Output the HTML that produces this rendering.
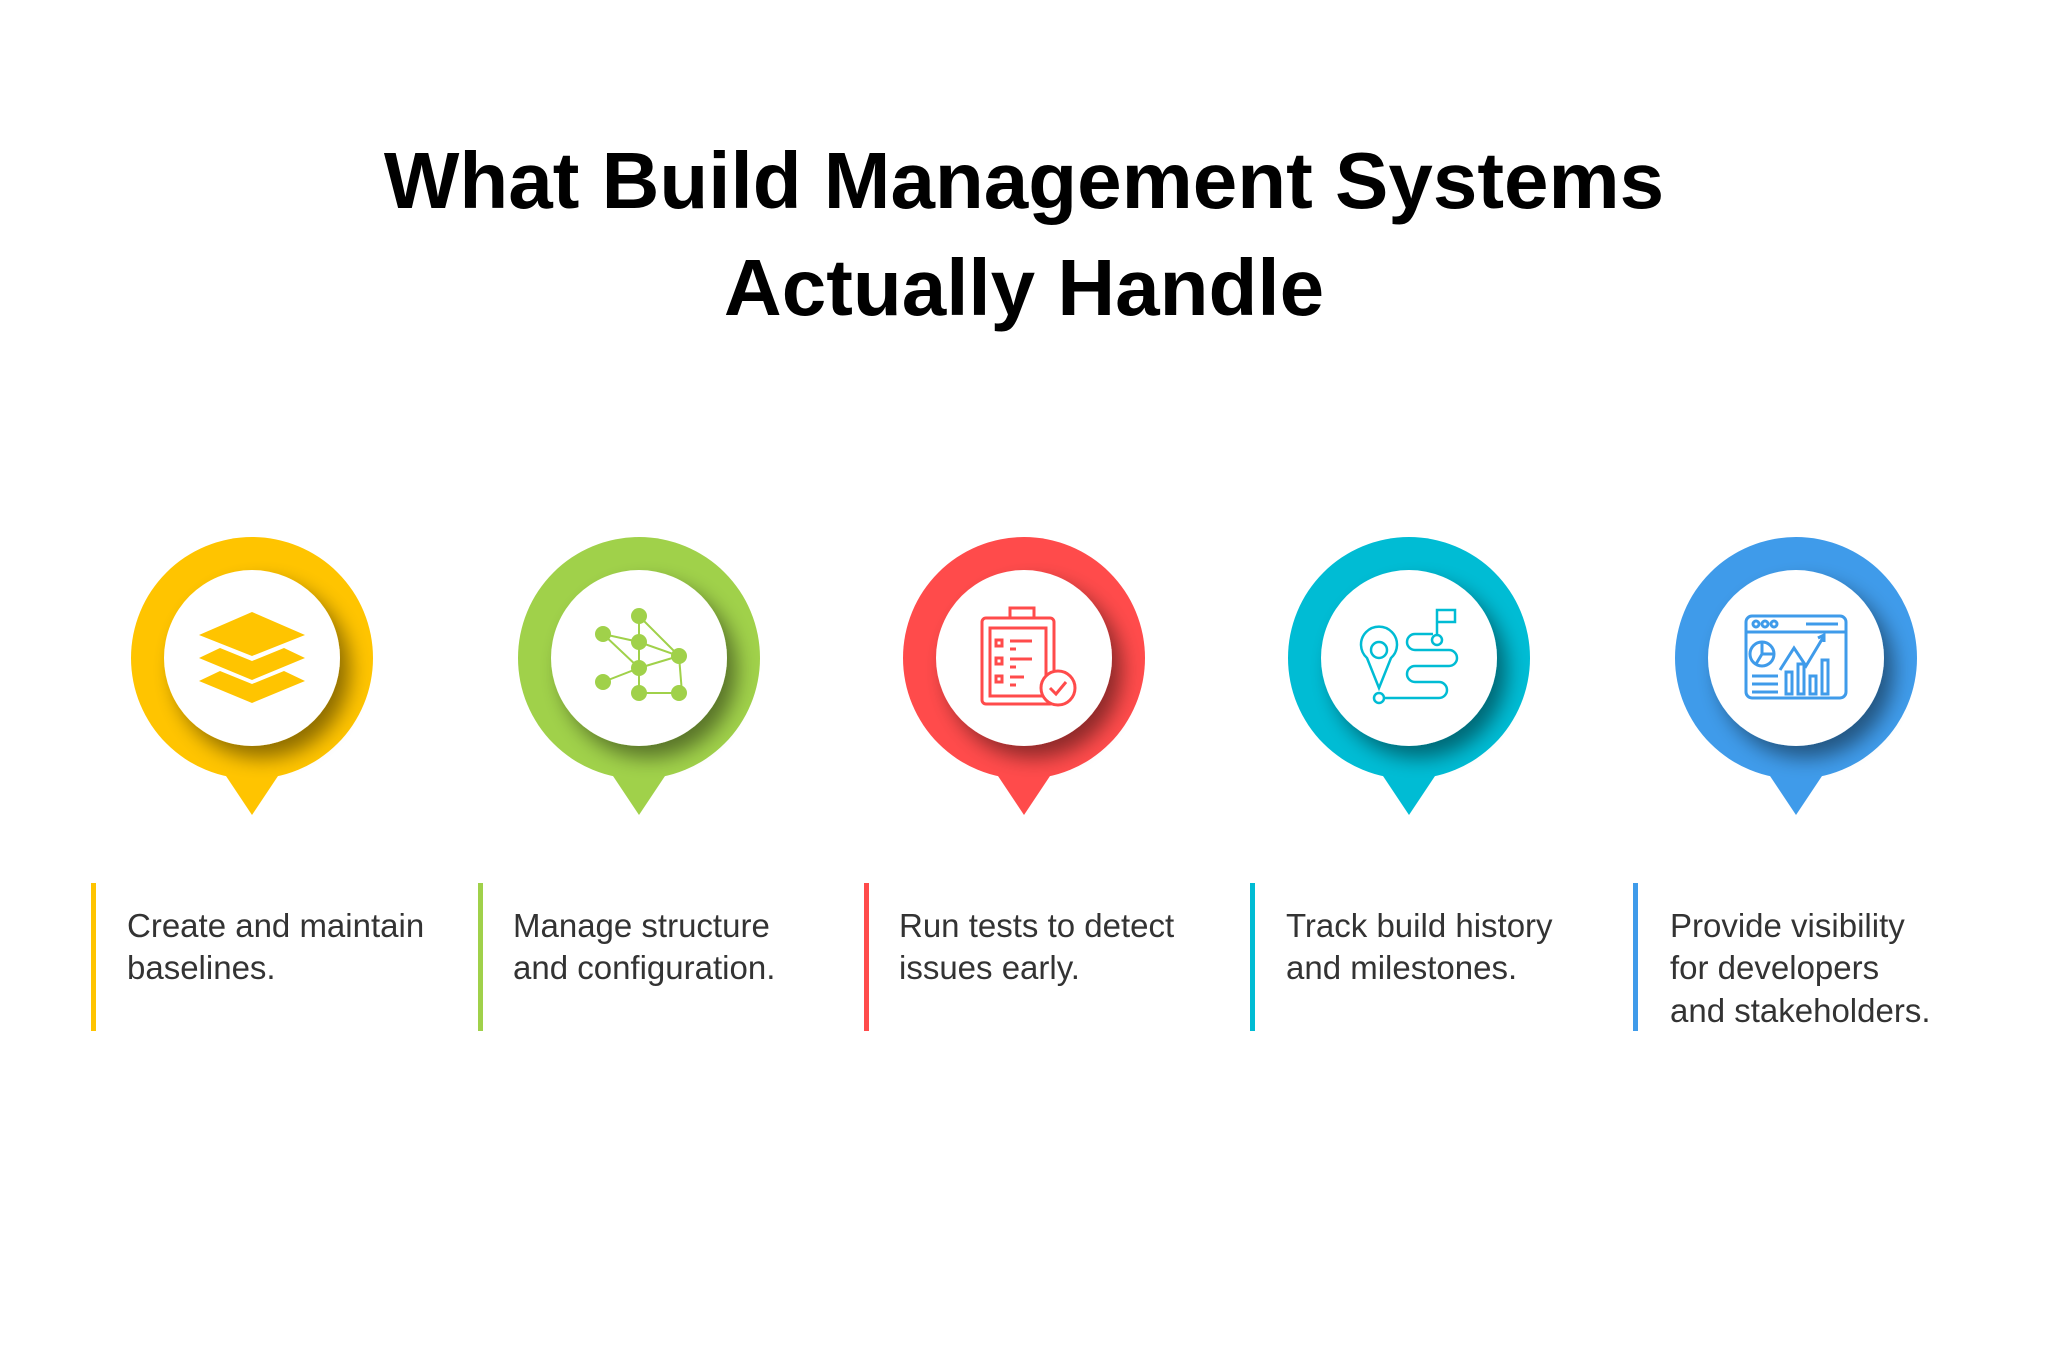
<!DOCTYPE html>
<html><head><meta charset="utf-8"><style>
html,body{margin:0;padding:0;background:#fff;}
svg{display:block;}
</style></head><body>
<svg width="2048" height="1364" viewBox="0 0 2048 1364" xmlns="http://www.w3.org/2000/svg">
<defs>
<filter id="sh" x="-30%" y="-30%" width="170%" height="170%">
<feGaussianBlur in="SourceAlpha" stdDeviation="10"/>
<feOffset dx="10" dy="12" result="o"/>
<feComponentTransfer><feFuncA type="linear" slope="0.45"/></feComponentTransfer>
<feMerge><feMergeNode/><feMergeNode in="SourceGraphic"/></feMerge>
</filter>
</defs>
<g font-family="Liberation Sans, sans-serif" font-weight="bold" font-size="80" text-anchor="middle" fill="#000">
<text x="1024" y="208">What Build Management Systems</text>
<text x="1024" y="315">Actually Handle</text>
</g>

<g transform="translate(252,658)">
<circle r="121" fill="#FFC400"/><path d="M-26,118 L0,157 L26,118 Z" fill="#FFC400"/>
<circle r="88" fill="#fff" filter="url(#sh)"/>
<g fill="#FFC400">
<path d="M0,-46 L53,-23 L0,-2 L-53,-23 Z"/>
<path d="M-32,-10 L0,3 L32,-10 L53,0 L0,22 L-53,0 Z"/>
<path d="M-32,13 L0,26 L32,13 L53,23 L0,45 L-53,23 Z"/>
</g></g>

<g transform="translate(639,658)">
<circle r="121" fill="#A0D14A"/><path d="M-26,118 L0,157 L26,118 Z" fill="#A0D14A"/>
<circle r="88" fill="#fff" filter="url(#sh)"/>
<g stroke="#A0D14A" stroke-width="2" fill="none">
<path d="M0,-42 L0,35 M-36,-24 L0,-16 L40,-2 L0,10 L-36,24 M0,-42 L40,-2 L43,35 L0,35 M-36,-24 L0,10"/>
</g>
<g fill="#A0D14A">
<circle cx="0" cy="-42" r="8"/><circle cx="-36" cy="-24" r="8"/><circle cx="0" cy="-16" r="8"/><circle cx="40" cy="-2" r="8"/><circle cx="0" cy="10" r="8"/><circle cx="-36" cy="24" r="8"/><circle cx="0" cy="35" r="8"/><circle cx="40" cy="35" r="8"/>
</g></g>

<g transform="translate(1024,658)">
<circle r="121" fill="#FF4B4B"/><path d="M-26,118 L0,157 L26,118 Z" fill="#FF4B4B"/>
<circle r="88" fill="#fff" filter="url(#sh)"/>
<g stroke="#FF4B4B" stroke-width="3" fill="none">
<rect x="-42" y="-40" width="72" height="86" rx="4"/>
<rect x="-34" y="-30" width="56" height="68"/>
<path d="M-14,-40 V-50 H10 V-40"/>
<path d="M-28,-18h6v6h-6z M-28,0h6v6h-6z M-28,18h6v6h-6z"/>
<path d="M-14,-17h22 M-14,-9h6 M-14,1h22 M-14,9h6 M-14,19h14 M-14,27h6"/>
<circle cx="34" cy="30" r="17" fill="#fff"/>
<path d="M26,30 l6,6 l10,-12"/>
</g></g>

<g transform="translate(1409,658)">
<circle r="121" fill="#00BCD4"/><path d="M-26,118 L0,157 L26,118 Z" fill="#00BCD4"/>
<circle r="88" fill="#fff" filter="url(#sh)"/>
<g stroke="#00BCD4" stroke-width="2.5" fill="none">
<path d="M-30,30 L-42,0 A18,18 0 1 1 -18,0 Z"/><circle cx="-30" cy="-8" r="8"/>
<circle cx="-30" cy="40" r="5"/>
<path d="M-25,40 H30 A8,8 0 0 0 30,24 H6 A8,8 0 0 1 6,8 H40 A8,8 0 0 0 40,-8 H6 A8,8 0 0 1 6,-24 H24"/>
<circle cx="28" cy="-18" r="5"/>
<path d="M28,-23 V-48 H46 V-36 H28"/>
</g></g>

<g transform="translate(1796,658)">
<circle r="121" fill="#3F9BEA"/><path d="M-26,118 L0,157 L26,118 Z" fill="#3F9BEA"/>
<circle r="88" fill="#fff" filter="url(#sh)"/>
<g stroke="#3F9BEA" stroke-width="3" fill="none">
<rect x="-50" y="-42" width="100" height="82" rx="6"/>
<path d="M-50,-26 H50"/>
<circle cx="-40" cy="-34" r="3"/><circle cx="-31" cy="-34" r="3"/><circle cx="-22" cy="-34" r="3"/>
<path d="M10,-34 H42"/>
<circle cx="-34" cy="-4" r="12"/><path d="M-34,-16 V-4 H-22 M-34,-4 L-40,6"/>
<path d="M-16,12 L-2,-10 L10,8 L28,-22 M22,-20 l6,-3 l0,7"/>
<path d="M-44,18 H-18 M-44,26 H-18 M-44,34 H-18"/>
<rect x="-10" y="14" width="6" height="22"/><rect x="2" y="6" width="6" height="30"/><rect x="14" y="18" width="6" height="18"/><rect x="26" y="2" width="6" height="34"/>
</g></g>

<g>
<rect x="91" y="883" width="5" height="148" fill="#FFC400"/>
<rect x="478" y="883" width="5" height="148" fill="#A0D14A"/>
<rect x="864" y="883" width="5" height="148" fill="#FF4B4B"/>
<rect x="1250" y="883" width="5" height="148" fill="#00BCD4"/>
<rect x="1633" y="883" width="5" height="148" fill="#3F9BEA"/>
</g>
<g font-family="Liberation Sans, sans-serif" font-size="33" fill="#333">
<text x="127" y="937">Create and maintain</text><text x="127" y="979">baselines.</text>
<text x="513" y="937">Manage structure</text><text x="513" y="979">and configuration.</text>
<text x="899" y="937">Run tests to detect</text><text x="899" y="979">issues early.</text>
<text x="1286" y="937">Track build history</text><text x="1286" y="979">and milestones.</text>
<text x="1670" y="937">Provide visibility</text><text x="1670" y="979">for developers</text><text x="1670" y="1022">and stakeholders.</text>
</g>
</svg>
</body></html>
